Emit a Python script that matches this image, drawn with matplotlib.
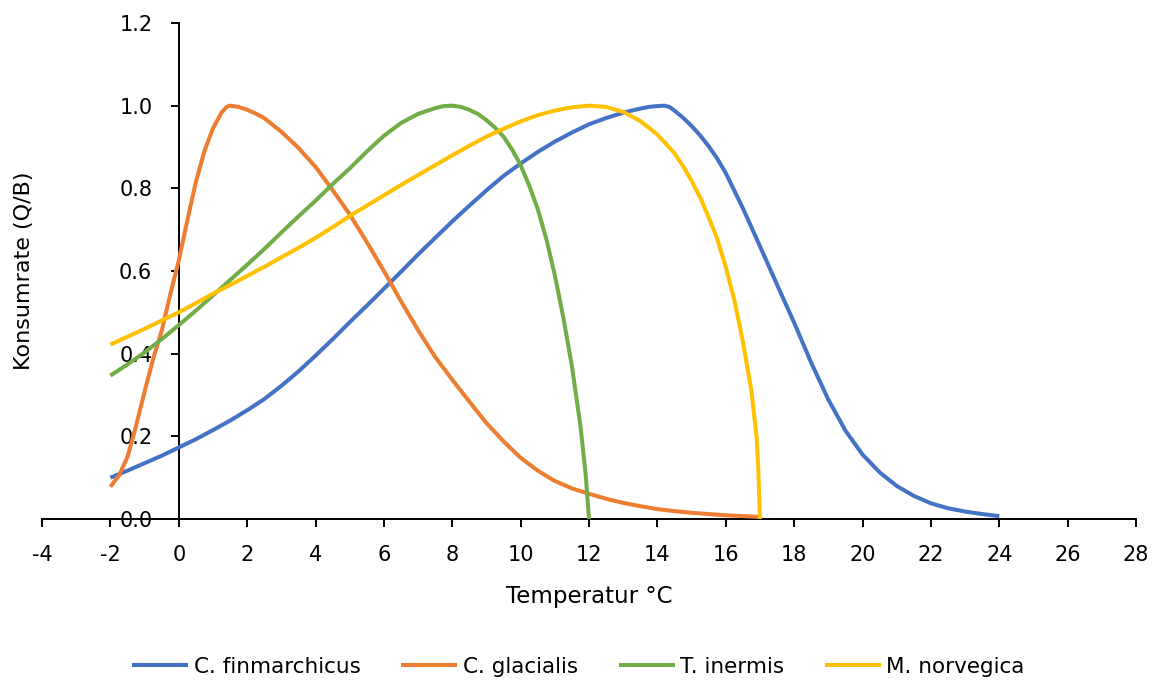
import matplotlib
matplotlib.use("Agg")
import matplotlib.pyplot as plt

plt.rcParams["font.family"] = ["DejaVu Sans"]
plt.rcParams["axes.unicode_minus"] = False

# Relative consumption (Q/B) versus temperature for four zooplankton species
fin_t = [-2, -1.5, -1, -0.5, 0, 0.5, 1, 1.5, 2, 2.5, 3, 3.5, 4, 4.5, 5, 5.5, 6, 6.5,
         7, 7.5, 8, 8.5, 9, 9.5, 10, 10.5, 11, 11.5, 12, 12.5, 13, 13.5, 13.75, 14,
         14.2, 14.35, 14.5, 14.75, 15, 15.25, 15.5, 15.75, 16, 16.5, 17, 17.5, 18, 18.5,
         19, 19.5, 20, 20.5, 21, 21.5, 22, 22.5, 23, 23.5, 24]
fin_q = [0.100, 0.117, 0.135, 0.153, 0.173, 0.193, 0.215, 0.238, 0.263, 0.290, 0.322,
         0.357, 0.395, 0.435, 0.476, 0.516, 0.557, 0.598, 0.640, 0.680, 0.720, 0.758,
         0.795, 0.830, 0.860, 0.888, 0.913, 0.935, 0.955, 0.970, 0.983, 0.993, 0.997,
         0.999, 1.000, 0.997, 0.988, 0.971, 0.951, 0.928, 0.902, 0.872, 0.837, 0.752,
         0.660, 0.567, 0.475, 0.378, 0.289, 0.214, 0.156, 0.113, 0.080, 0.056, 0.038,
         0.026, 0.018, 0.012, 0.007]

gla_t = [-2, -1.75, -1.5, -1.25, -1, -0.75, -0.5, -0.25, 0, 0.25, 0.5, 0.75, 1, 1.25,
         1.4, 1.5, 1.75, 2, 2.25, 2.5, 3, 3.5, 4, 4.5, 5, 5.5, 6, 6.5, 7, 7.5, 8, 8.5,
         9, 9.5, 10, 10.5, 11, 11.5, 12, 12.5, 13, 13.5, 14, 14.5, 15, 15.5, 16, 16.5,
         17]
gla_q = [0.078, 0.105, 0.150, 0.225, 0.308, 0.387, 0.455, 0.543, 0.625, 0.722, 0.815,
         0.890, 0.945, 0.983, 0.997, 1.000, 0.997, 0.990, 0.981, 0.970, 0.937, 0.898,
         0.852, 0.796, 0.737, 0.670, 0.600, 0.527, 0.457, 0.392, 0.337, 0.284, 0.232,
         0.188, 0.148, 0.117, 0.092, 0.074, 0.061, 0.049, 0.039, 0.031, 0.024, 0.019,
         0.015, 0.012, 0.009, 0.007, 0.005]

ine_t = [-2, -1.5, -1, -0.5, 0, 0.5, 1, 1.5, 2, 2.5, 3, 3.5, 4, 4.5, 5, 5.5, 6, 6.5,
         7, 7.5, 7.75, 8, 8.25, 8.5, 8.75, 9, 9.25, 9.5, 9.75, 10, 10.25, 10.5, 10.75,
         11, 11.25, 11.5, 11.75, 11.9, 12]
ine_q = [0.347, 0.374, 0.403, 0.435, 0.469, 0.504, 0.541, 0.578, 0.615, 0.653, 0.693,
         0.732, 0.770, 0.810, 0.848, 0.889, 0.927, 0.958, 0.980, 0.994, 0.999, 1.000,
         0.997, 0.990, 0.980, 0.965, 0.947, 0.925, 0.894, 0.856, 0.807, 0.750, 0.678,
         0.590, 0.487, 0.370, 0.225, 0.110, 0.000]

nor_t = [-2, -1.5, -1, -0.5, 0, 0.5, 1, 1.5, 2, 2.5, 3, 3.5, 4, 4.5, 5, 5.5, 6, 6.5,
         7, 7.5, 8, 8.5, 9, 9.5, 10, 10.5, 11, 11.5, 12, 12.5, 13, 13.5, 14, 14.5,
         14.75, 15, 15.25, 15.5, 15.75, 16, 16.25, 16.5, 16.75, 16.9, 16.95, 17]
nor_q = [0.422, 0.441, 0.460, 0.480, 0.500, 0.522, 0.545, 0.566, 0.588, 0.610, 0.633,
         0.656, 0.680, 0.706, 0.733, 0.758, 0.783, 0.808, 0.832, 0.856, 0.880, 0.903,
         0.925, 0.944, 0.962, 0.977, 0.988, 0.996, 1.000, 0.997, 0.985, 0.963, 0.930,
         0.885, 0.854, 0.818, 0.778, 0.730, 0.678, 0.610, 0.530, 0.430, 0.310, 0.200,
         0.125, 0.000]

series_names = ["C. finmarchicus", "C. glacialis", "T. inermis", "M. norvegica"]
series_colors = ["#4472C4", "#ED7D31", "#70AD47", "#FFC000"]

x_ticks = list(range(-4, 29, 2))
y_ticks = [0.0, 0.2, 0.4, 0.6, 0.8, 1.0, 1.2]

fig = plt.figure(figsize=(11.57, 6.84), dpi=100)
ax = fig.add_axes([42 / 1157, 165 / 684, 1094 / 1157, 496 / 684])

series = [(fin_t, fin_q), (gla_t, gla_q), (ine_t, ine_q), (nor_t, nor_q)]
for (t, q), name, color in zip(series, series_names, series_colors):
    ax.plot(t, q, color=color, lw=2.9, label=name, solid_capstyle="butt",
            solid_joinstyle="round", zorder=3, clip_on=False)

ax.set_xlim(-4, 28)
ax.set_ylim(0, 1.2)
ax.set_xticks(x_ticks)
ax.set_xticklabels([str(v) for v in x_ticks])
ax.set_yticks(y_ticks)
ax.set_yticklabels([f"{v:.1f}" for v in y_ticks])

ax.spines["left"].set_position(("data", 0))
ax.spines["top"].set_visible(False)
ax.spines["right"].set_visible(False)
for side in ("left", "bottom"):
    ax.spines[side].set_linewidth(1.4)
    ax.spines[side].set_color("black")

ax.tick_params(axis="x", direction="out", length=5.8, width=1.4, pad=13,
               labelsize=15, colors="black")
ax.tick_params(axis="y", direction="out", length=5.5, width=1.4, pad=13.5,
               labelsize=15, colors="black")

ax.set_xlabel("Temperatur °C", fontsize=16.5)
ax.xaxis.set_label_coords(0.5, -0.133)
ax.set_ylabel("Konsumrate (Q/B)", fontsize=16)
ax.yaxis.set_label_coords(-0.0075, 0.5)

fig.legend(loc="center", bbox_to_anchor=(0.5, 0.025), ncol=4, frameon=False,
           fontsize=15.5, handlelength=2.6, handletextpad=0.25, columnspacing=1.9)

fig.savefig("out.png", dpi=100)
